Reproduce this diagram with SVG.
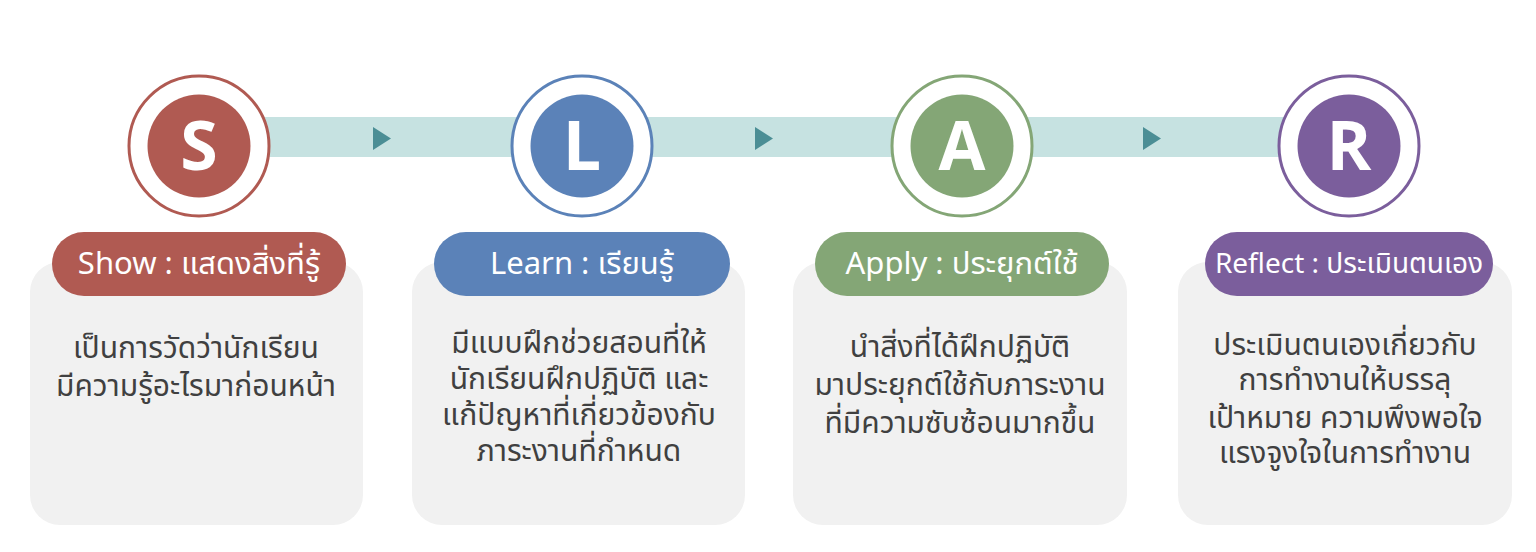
<svg xmlns="http://www.w3.org/2000/svg" width="1536" height="552" viewBox="0 0 1536 552">
<style>
.card{fill:#f1f1f1}
.ring{fill:#ffffff;stroke-width:3}
.letter{font-family:"Open Sans","Liberation Sans",sans-serif;font-weight:700;font-size:68px;fill:#ffffff;text-anchor:middle}
.pilltxt{font-family:"Noto Sans","Noto Sans Thai","Liberation Sans",sans-serif;font-size:31px;fill:#ffffff;text-anchor:middle;font-weight:400}
.pillsm{font-size:28px}
.body{font-family:"Noto Sans Thai","Noto Sans","DejaVu Sans",sans-serif;font-size:30px;fill:#404040;text-anchor:middle}
.band{fill:#c6e2e1}
.arrow{fill:#4b8e95}
</style>
<rect width="1536" height="552" fill="#ffffff"/>
<g id="connectors">
<rect class="band" x="199" y="117" width="1150" height="40"/>
<polygon class="arrow" points="373,127 373,150 391,138.5"/>
<polygon class="arrow" points="755,127 755,150 773,138.5"/>
<polygon class="arrow" points="1143,127 1143,150 1161,138.5"/>
</g>
<g id="node-s">
<rect class="card" x="30" y="262" width="333" height="263" rx="30"/>
<circle class="ring" cx="199" cy="146" r="70" stroke="#b05a52"/>
<circle cx="199" cy="146" r="51.5" fill="#b05a52"/>
<text class="letter" x="199" y="170">S</text>
<rect x="52" y="232" width="294" height="64" rx="32" fill="#b05a52"/>
<text class="pilltxt" x="199" y="274">Show : แสดงสิ่งที่รู้</text>
<text class="body" x="196" y="358">เป็นการวัดว่านักเรียน</text>
<text class="body" x="196" y="396">มีความรู้อะไรมาก่อนหน้า</text>
</g>
<g id="node-l">
<rect class="card" x="412" y="262" width="333" height="263" rx="30"/>
<circle class="ring" cx="582" cy="146" r="70" stroke="#5b82b8"/>
<circle cx="582" cy="146" r="51.5" fill="#5b82b8"/>
<text class="letter" x="582" y="170">L</text>
<rect x="434" y="232" width="296" height="64" rx="32" fill="#5b82b8"/>
<text class="pilltxt" x="582" y="274">Learn : เรียนรู้</text>
<text class="body" x="579" y="353">มีแบบฝึกช่วยสอนที่ให้</text>
<text class="body" x="579" y="389">นักเรียนฝึกปฏิบัติ และ</text>
<text class="body" x="579" y="425">แก้ปัญหาที่เกี่ยวข้องกับ</text>
<text class="body" x="579" y="461">ภาระงานที่กำหนด</text>
</g>
<g id="node-a">
<rect class="card" x="793" y="262" width="334" height="263" rx="30"/>
<circle class="ring" cx="962" cy="146" r="70" stroke="#84a676"/>
<circle cx="962" cy="146" r="51.5" fill="#84a676"/>
<text class="letter" x="962" y="170">A</text>
<rect x="815" y="232" width="294" height="64" rx="32" fill="#84a676"/>
<text class="pilltxt" x="962" y="274">Apply : ประยุกต์ใช้</text>
<text class="body" x="960" y="357">นำสิ่งที่ได้ฝึกปฏิบัติ</text>
<text class="body" x="960" y="395">มาประยุกต์ใช้กับภาระงาน</text>
<text class="body" x="960" y="433">ที่มีความซับซ้อนมากขึ้น</text>
</g>
<g id="node-r">
<rect class="card" x="1178" y="262" width="334" height="263" rx="30"/>
<circle class="ring" cx="1349" cy="146" r="70" stroke="#7b5e9c"/>
<circle cx="1349" cy="146" r="51.5" fill="#7b5e9c"/>
<text class="letter" x="1349" y="170">R</text>
<rect x="1205" y="232" width="288" height="64" rx="32" fill="#7b5e9c"/>
<text class="pilltxt pillsm" x="1349" y="273">Reflect : ประเมินตนเอง</text>
<text class="body" x="1345" y="355">ประเมินตนเองเกี่ยวกับ</text>
<text class="body" x="1345" y="390">การทำงานให้บรรลุ</text>
<text class="body" x="1345" y="428">เป้าหมาย ความพึงพอใจ</text>
<text class="body" x="1345" y="463">แรงจูงใจในการทำงาน</text>
</g>
</svg>
